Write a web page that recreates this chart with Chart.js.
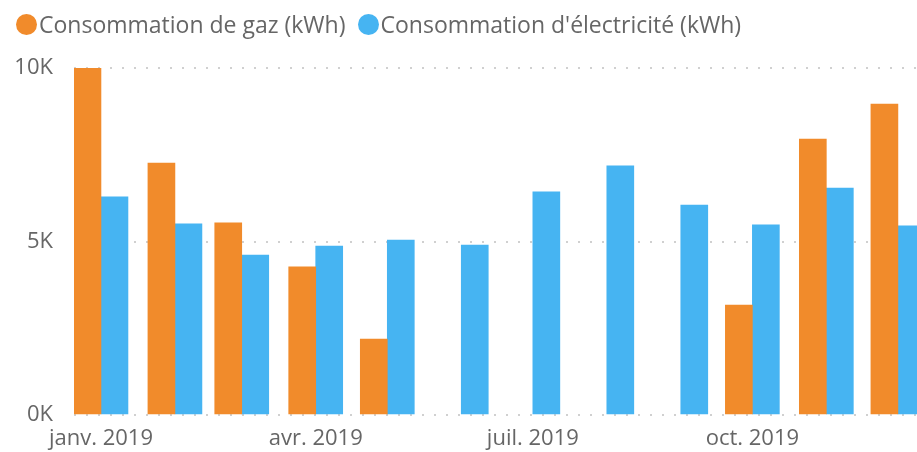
<!DOCTYPE html>
<html lang="fr">
<head>
<meta charset="utf-8">
<script src="https://cdn.jsdelivr.net/npm/chart.js@4/dist/chart.umd.min.js"></script>
<style>
  html, body { margin: 0; padding: 0; background: #fff; }
  .wrap { position: relative; width: 917px; height: 452px; overflow: hidden; }
  #legend { position: absolute; top: 8px; left: 16px; display: flex; gap: 12px;
    font-family: "Open Sans", sans-serif; font-size: 23px; color: #666; }
  #legend .item { display: flex; align-items: center; white-space: nowrap; }
  #legend .dot { width: 21px; height: 21px; border-radius: 50%; margin-right: 2px; }
</style>
</head>
<body>
<div class="wrap">
  <canvas id="chart" width="917" height="452"></canvas>
  <div id="legend"></div>
</div>
<script>
// monthly readings, 2019
const months = ['2019-01-01', '2019-02-01', '2019-03-01', '2019-04-01', '2019-05-01', '2019-06-01',
                '2019-07-01', '2019-08-01', '2019-09-01', '2019-10-01', '2019-11-01', '2019-12-01'];
const gasKwh = [10000, 7260, 5540, 4270, 2190, null, null, null, null, 3170, 7950, 8960];
const elecKwh = [6290, 5510, 4610, 4870, 5040, 4900, 6430, 7180, 6050, 5480, 6540, 5450];
const seriesNames = ['Consommation de gaz (kWh)', "Consommation d'électricité (kWh)"];
const tickMonths = [0, 3, 6, 9];
const tickLabels = ['janv. 2019', 'avr. 2019', 'juil. 2019', 'oct. 2019'];

const DAY = 86400000;
const yearStart = Date.UTC(2019, 0, 1);
const dayOf = s => Math.round((Date.parse(s) - yearStart) / DAY);
const monthDays = months.map(dayOf);

const toPoints = vals => vals.map((v, i) => ({ x: monthDays[i], y: v }));

const FONT = { family: '"Open Sans", sans-serif', size: 22 };
const GREY = '#666666';

const chart = new Chart(document.getElementById('chart'), {
  type: 'bar',
  data: {
    datasets: [
      { label: seriesNames[0], data: toPoints(gasKwh), backgroundColor: '#F18B2B', barThickness: 27 },
      { label: seriesNames[1], data: toPoints(elecKwh), backgroundColor: '#46B4F2', barThickness: 27 }
    ]
  },
  options: {
    responsive: false,
    animation: false,
    layout: { padding: { top: 68, left: 0, right: 0, bottom: 0 } },
    scales: {
      x: {
        type: 'linear',
        offset: false,
        min: -11.3,
        max: 342,
        grid: { display: false, drawTicks: false },
        border: { display: false },
        afterBuildTicks: scale => {
          scale.ticks = tickMonths.map(i => ({ value: monthDays[i] }));
        },
        afterFit: scale => { scale.height = 37; },
        ticks: {
          autoSkip: false,
          maxRotation: 0,
          padding: 11,
          color: GREY,
          font: FONT,
          callback: (v) => tickLabels[tickMonths.findIndex(i => monthDays[i] === v)]
        }
      },
      y: {
        min: 0,
        max: 10000,
        afterFit: scale => { scale.width = 74; },
        grid: { color: '#d0d0d0', lineWidth: 2, drawTicks: false },
        border: { display: false, dash: [2, 10] },
        ticks: {
          stepSize: 5000,
          padding: 21,
          color: GREY,
          font: FONT,
          callback: v => (v / 1000) + 'K'
        }
      }
    },
    plugins: {
      legend: { display: false },
      tooltip: { enabled: false }
    }
  }
});

// legend above the plot
const legend = document.getElementById('legend');
chart.data.datasets.forEach(ds => {
  const item = document.createElement('span');
  item.className = 'item';
  const dot = document.createElement('span');
  dot.className = 'dot';
  dot.style.background = ds.backgroundColor;
  item.appendChild(dot);
  item.appendChild(document.createTextNode(ds.label));
  legend.appendChild(item);
});
</script>
</body>
</html>
